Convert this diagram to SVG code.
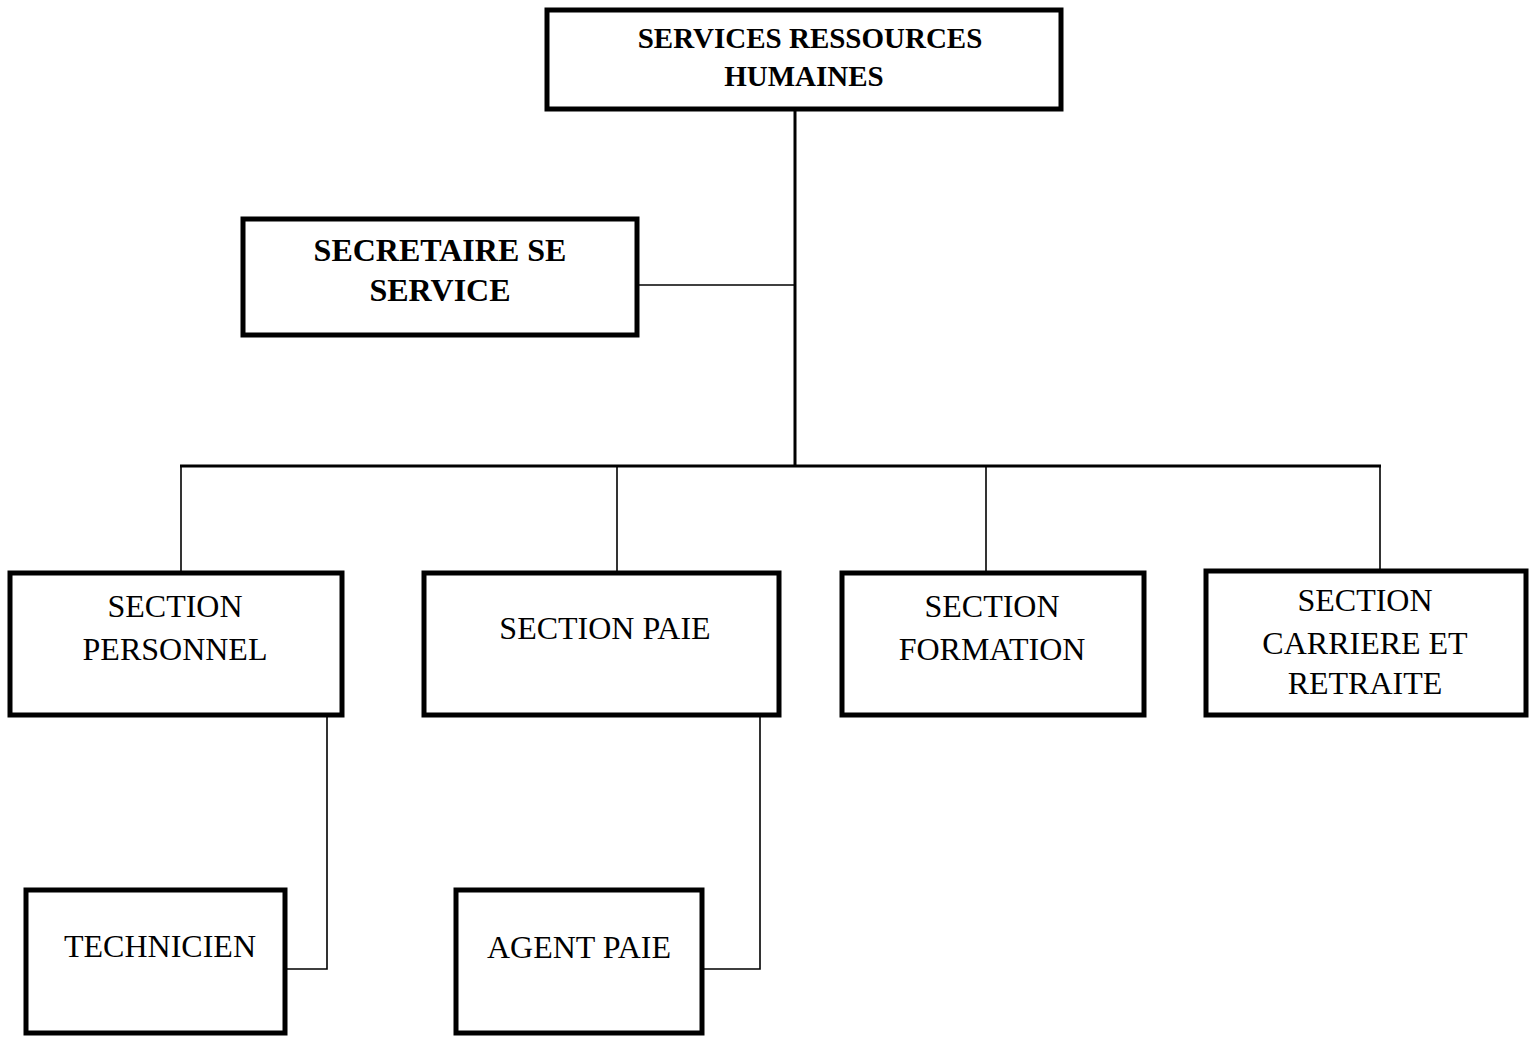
<svg xmlns="http://www.w3.org/2000/svg" width="1529" height="1037" viewBox="0 0 1529 1037">
<style>
.box{fill:#fff;stroke:#000;stroke-width:5}
.b{font-family:"Liberation Serif","Times New Roman",serif;font-weight:bold;fill:#000;text-anchor:middle}
.r{font-family:"Liberation Serif","Times New Roman",serif;font-size:32px;fill:#000;text-anchor:middle}
.thick{stroke:#000;stroke-width:3;fill:none}
.thin{stroke:#000;stroke-width:1.6;fill:none}
</style>
<rect width="1529" height="1037" fill="#fff"/>
<g id="connectors">
<line class="thick" x1="795" y1="110" x2="795" y2="467"/>
<line class="thin" x1="637" y1="285" x2="795" y2="285"/>
<line class="thick" x1="180" y1="466" x2="1381" y2="466"/>
<line class="thin" x1="181" y1="466" x2="181" y2="572"/>
<line class="thin" x1="617" y1="466" x2="617" y2="572"/>
<line class="thin" x1="986" y1="466" x2="986" y2="572"/>
<line class="thin" x1="1380" y1="466" x2="1380" y2="570"/>
<polyline class="thin" points="327,716 327,969 286,969"/>
<polyline class="thin" points="760,716 760,969 703,969"/>
</g>
<g id="n-srh">
<rect class="box" x="547" y="10" width="514" height="99"/>
<text class="b" x="810" y="48" font-size="29">SERVICES RESSOURCES</text>
<text class="b" x="804" y="86" font-size="29">HUMAINES</text>
</g>
<g id="n-secretaire">
<rect class="box" x="243" y="219" width="394" height="116"/>
<text class="b" x="440" y="261" font-size="32">SECRETAIRE SE</text>
<text class="b" x="440" y="301" font-size="32">SERVICE</text>
</g>
<g id="n-personnel">
<rect class="box" x="10" y="573" width="332" height="142"/>
<text class="r" x="175" y="617">SECTION</text>
<text class="r" x="175" y="660">PERSONNEL</text>
</g>
<g id="n-paie">
<rect class="box" x="424" y="573" width="355" height="142"/>
<text class="r" x="605" y="639">SECTION PAIE</text>
</g>
<g id="n-formation">
<rect class="box" x="842" y="573" width="302" height="142"/>
<text class="r" x="992" y="617">SECTION</text>
<text class="r" x="992" y="660">FORMATION</text>
</g>
<g id="n-carriere">
<rect class="box" x="1206" y="571" width="320" height="144"/>
<text class="r" x="1365" y="611">SECTION</text>
<text class="r" x="1365" y="654">CARRIERE ET</text>
<text class="r" x="1365" y="694">RETRAITE</text>
</g>
<g id="n-technicien">
<rect class="box" x="26" y="890" width="259" height="143"/>
<text class="r" x="160" y="957">TECHNICIEN</text>
</g>
<g id="n-agent">
<rect class="box" x="456" y="890" width="246" height="143"/>
<text class="r" x="579" y="958">AGENT PAIE</text>
</g>
</svg>
